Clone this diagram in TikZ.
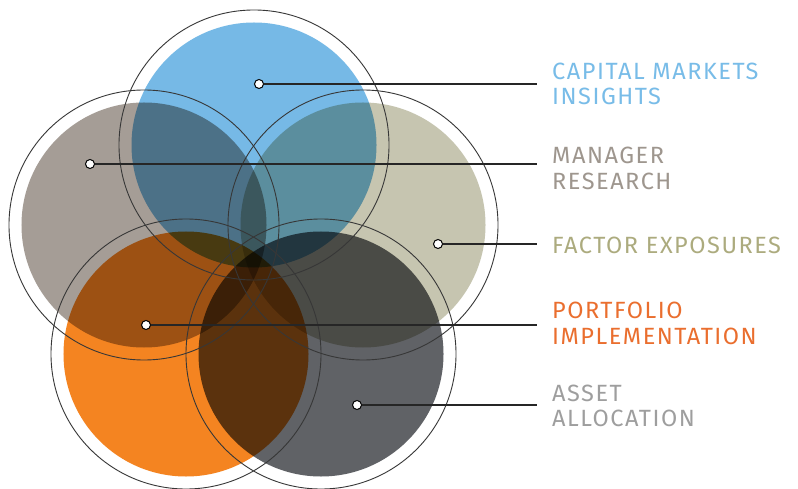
\documentclass[tikz,border=0pt]{standalone}
\usepackage{fontspec}
\setmainfont{Fira Sans}[LetterSpace=6.5]
\usetikzlibrary{calc}
\definecolor{cblue}{RGB}{118,185,230}
\definecolor{cgray}{RGB}{165,157,150}
\definecolor{ctan}{RGB}{198,197,176}
\definecolor{corange}{RGB}{244,132,33}
\definecolor{cdark}{RGB}{96,98,102}
\definecolor{tblue}{RGB}{120,188,232}
\definecolor{tgray}{RGB}{158,150,142}
\definecolor{ttan}{RGB}{172,171,126}
\definecolor{torange}{RGB}{234,110,46}
\definecolor{tdark}{RGB}{158,158,158}
\definecolor{ringc}{RGB}{55,55,55}
\tikzset{
  ringstyle/.style={draw=ringc,line width=0.9bp},
  dotnode/.style={circle,fill=white,draw=black,line width=1bp,minimum size=9bp,inner sep=0pt},
  leader/.style={draw=black!85,line width=1.1bp},
  lbl/.style={anchor=base west,inner sep=0pt,font=\fontsize{23.5bp}{26bp}\selectfont}
}
\begin{document}
\begin{tikzpicture}[x=1bp,y=-1bp]
\useasboundingbox (0,0) rectangle (798,489);
\fill[white] (0,0) rectangle (798,489);
% centres
\coordinate (cB) at (254,145);
\coordinate (cG) at (144,225);
\coordinate (cT) at (363,225);
\coordinate (cO) at (186,354);
\coordinate (cD) at (321,354);
\begin{scope}[blend group=multiply]
  \fill[cblue] (cB) circle[radius=122.5bp];
  \fill[cgray] (cG) circle[radius=122.5bp];
  \fill[ctan] (cT) circle[radius=122.5bp];
  \fill[corange] (cO) circle[radius=122.5bp];
  \fill[cdark] (cD) circle[radius=122.5bp];
\end{scope}
\foreach \c in {cB,cG,cT,cO,cD}{
  \draw[ringstyle] (\c) circle[radius=135bp];
}
% dots
\node[dotnode] (dB) at (259,84) {};
\node[dotnode] (dG) at (90,164) {};
\node[dotnode] (dT) at (438,244) {};
\node[dotnode] (dO) at (146,325) {};
\node[dotnode] (dD) at (357,405) {};
\coordinate (eB) at (537,84);
\coordinate (eG) at (537,164);
\coordinate (eT) at (537,244);
\coordinate (eO) at (537,325);
\coordinate (eD) at (537,405);
\draw[leader] (dB.east) -- (eB);
\draw[leader] (dG.east) -- (eG);
\draw[leader] (dT.east) -- (eT);
\draw[leader] (dO.east) -- (eO);
\draw[leader] (dD.east) -- (eD);
% labels
\node[lbl,text=tblue] (lB1) at (552,79.3) {CAPITAL MARKETS};
\node[lbl,text=tblue] (lB2) at (552,105) {INSIGHTS};
\node[lbl,text=tgray] (lG1) at (552,163.3) {MANAGER};
\node[lbl,text=tgray] (lG2) at (552,189.3) {RESEARCH};
\node[lbl,text=ttan] (lT1) at (552,253.7) {FACTOR EXPOSURES};
\node[lbl,text=torange] (lO1) at (552,318.7) {PORTFOLIO};
\node[lbl,text=torange] (lO2) at (552,344.3) {IMPLEMENTATION};
\node[lbl,text=tdark] (lD1) at (552,401.7) {ASSET};
\node[lbl,text=tdark] (lD2) at (552,426.7) {ALLOCATION};
\end{tikzpicture}
\end{document}
